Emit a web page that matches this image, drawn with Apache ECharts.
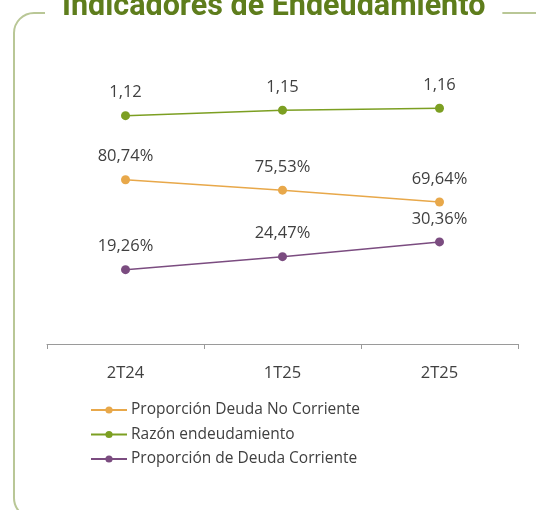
<!DOCTYPE html>
<html lang="es">
<head>
<meta charset="UTF-8">
<title>Indicadores de Endeudamiento</title>
<script src="https://cdn.jsdelivr.net/npm/echarts@6/dist/echarts.min.js"></script>
<style>
  html, body { margin: 0; padding: 0; background: #fff; }
  #chart { width: 536px; height: 510px; }
</style>
</head>
<body>
<div id="chart"></div>
<script>
var periodos = ['2T24', '1T25', '2T25'];
var deudaNoCorriente = [0.8074, 0.7553, 0.6964];
var razonEndeudamiento = [1.12, 1.15, 1.16];
var deudaCorriente = [0.1926, 0.2447, 0.3036];

var colNoCorr = '#E8A84A';
var colRazon = '#7C9F22';
var colCorr = '#7B4C80';

function pct(p) { return (p.value * 100).toFixed(2).replace('.', ',') + '%'; }
function dec(p) { return p.value.toFixed(2).replace('.', ','); }

var labelStyle = { show: true, position: 'top', distance: 10, fontSize: 16.5, color: '#404040', fontFamily: 'Open Sans' };

var chart = echarts.init(document.getElementById('chart'));
chart.setOption({
  animation: false,
  title: {
    text: 'Indicadores de Endeudamiento',
    left: 45,
    top: -8,
    padding: [0, 17],
    backgroundColor: '#fff',
    z: 10,
    textStyle: { fontFamily: 'Roboto', fontWeight: 'bold', fontSize: 30.5, color: '#5E7D1C' }
  },
  graphic: [{
    type: 'rect',
    z: 0,
    shape: { x: 14, y: 13, width: 545, height: 505, r: 20 },
    style: { fill: 'none', stroke: '#B9C796', lineWidth: 2 }
  }],
  legend: {
    orient: 'vertical',
    left: 85,
    top: 397,
    itemWidth: 36,
    itemHeight: 9,
    itemGap: 8.5,
    textStyle: { fontSize: 15.5, color: '#404040', fontFamily: 'Open Sans', padding: [0, 0, 0, -1] },
    data: ['Proporción Deuda No Corriente', 'Razón endeudamiento', 'Proporción de Deuda Corriente']
  },
  grid: { left: 47, right: 18, top: 60, bottom: 166 },
  xAxis: {
    type: 'category',
    data: periodos,
    axisLine: { onZero: false, lineStyle: { color: '#9A9A9A', width: 1 } },
    axisTick: { show: true, inside: false, length: 5, lineStyle: { color: '#9A9A9A' } },
    axisLabel: { margin: 21, fontSize: 16.5, color: '#404040', fontFamily: 'Open Sans' }
  },
  yAxis: [
    { type: 'value', show: false, min: -0.114, max: 1.421, splitLine: { show: false } },
    { type: 'value', show: false, min: -0.01, max: 1.403, splitLine: { show: false } },
    { type: 'value', show: false, min: -0.1046, max: 1.031, splitLine: { show: false } }
  ],
  series: [
    {
      name: 'Proporción Deuda No Corriente', type: 'line', yAxisIndex: 1,
      data: deudaNoCorriente, symbol: 'circle', symbolSize: 9,
      itemStyle: { color: colNoCorr }, lineStyle: { color: colNoCorr, width: 1.5 },
      label: Object.assign({ formatter: pct }, labelStyle)
    },
    {
      name: 'Razón endeudamiento', type: 'line', yAxisIndex: 0,
      data: razonEndeudamiento, symbol: 'circle', symbolSize: 9,
      itemStyle: { color: colRazon }, lineStyle: { color: colRazon, width: 1.5 },
      label: Object.assign({ formatter: dec }, labelStyle)
    },
    {
      name: 'Proporción de Deuda Corriente', type: 'line', yAxisIndex: 2,
      data: deudaCorriente, symbol: 'circle', symbolSize: 9,
      itemStyle: { color: colCorr }, lineStyle: { color: colCorr, width: 1.5 },
      label: Object.assign({ formatter: pct }, labelStyle)
    }
  ]
});
</script>
</body>
</html>
